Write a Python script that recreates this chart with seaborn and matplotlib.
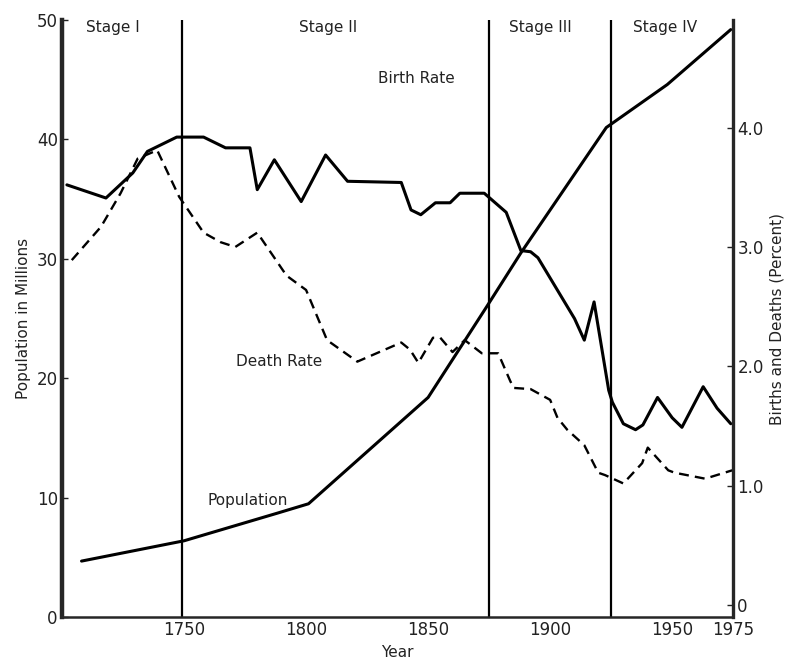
import matplotlib
matplotlib.use('Agg')

import matplotlib.pyplot as plt
import seaborn as sns
import pandas as pd

# population, millions (left axis)
pop_years = [1708, 1750, 1788, 1801, 1850, 1874, 1888, 1923, 1948, 1974]
pop_values = [4.7, 6.4, 8.7, 9.5, 18.4, 26.0, 30.5, 41.0, 44.6, 49.2]

# birth rate, percent (right axis)
birth_years = [1702, 1718, 1729, 1735, 1747, 1758, 1767, 1777, 1780, 1787,
               1798, 1808, 1817, 1839, 1843, 1847, 1853, 1859, 1863, 1873,
               1882, 1888, 1892, 1895, 1910, 1914, 1918, 1924, 1925.5, 1930,
               1935, 1938, 1944, 1950, 1954, 1962.7, 1968.4, 1974]
birth_values = [3.52, 3.41, 3.62, 3.80, 3.92, 3.92, 3.83, 3.83, 3.48, 3.73,
                3.38, 3.77, 3.55, 3.54, 3.31, 3.27, 3.37, 3.37, 3.45, 3.45,
                3.29, 2.97, 2.96, 2.91, 2.40, 2.22, 2.54, 1.80, 1.70, 1.52,
                1.47, 1.51, 1.74, 1.57, 1.49, 1.83, 1.65, 1.52]

# death rate, percent (right axis)
death_years = [1704, 1716, 1724, 1731, 1739, 1748, 1758, 1765, 1771, 1780,
               1792, 1800, 1808.6, 1821, 1839, 1842.6, 1846, 1852, 1855, 1860,
               1865, 1872, 1878.7, 1883.6, 1885, 1892, 1900, 1903, 1907, 1914,
               1919.7, 1922.5, 1930, 1937.7, 1940, 1948.4, 1951, 1963.5, 1974.6]
death_values = [2.89, 3.17, 3.45, 3.74, 3.81, 3.42, 3.12, 3.04, 3.00, 3.12,
                2.76, 2.64, 2.22, 2.04, 2.20, 2.14, 2.03, 2.24, 2.24, 2.12,
                2.22, 2.11, 2.11, 1.88, 1.82, 1.81, 1.72, 1.57, 1.47, 1.34,
                1.11, 1.09, 1.02, 1.19, 1.32, 1.13, 1.11, 1.06, 1.13]

stage_bounds = [1749, 1875, 1925]
stage_names = ["Stage I", "Stage II", "Stage III", "Stage IV"]
stage_label_x = [1721, 1809, 1896, 1947]

year_ticks = [1750, 1800, 1850, 1900, 1950, 1975]
pop_ticks = [0, 10, 20, 30, 40, 50]
rate_ticks = [0, 1, 2, 3, 4]
rate_tick_labels = ["0", "1.0", "2.0", "3.0", "4.0"]

sns.set_style("white")
plt.rcParams['font.family'] = ['DejaVu Sans']

pop_df = pd.DataFrame({"year": pop_years, "value": pop_values})
birth_df = pd.DataFrame({"year": birth_years, "value": birth_values})
death_df = pd.DataFrame({"year": death_years, "value": death_values})

fig = plt.figure(figsize=(7.85, 6.68), dpi=100)
ax = fig.add_axes([0.079, 0.076, 0.855, 0.894])
ax2 = ax.twinx()

sns.lineplot(data=pop_df, x="year", y="value", ax=ax, color="black",
             linewidth=2.2, estimator=None)
sns.lineplot(data=birth_df, x="year", y="value", ax=ax2, color="black",
             linewidth=2.2, estimator=None)
sns.lineplot(data=death_df, x="year", y="value", ax=ax2, color="black",
             linewidth=1.7, linestyle=(0, (4.2, 2.6)), estimator=None)

for b in stage_bounds:
    ax.axvline(b, color="black", linewidth=1.6)

ax.set_xlim(1700, 1975)
ax.set_ylim(0, 50)
ax2.set_ylim(-0.1, 4.9)

ax.set_xticks(year_ticks)
ax.set_yticks(pop_ticks)
ax2.set_yticks(rate_ticks)
ax2.set_yticklabels(rate_tick_labels)

for a in (ax, ax2):
    a.tick_params(direction="in", length=4, width=1, labelsize=12, colors="#222222", pad=3)
    a.spines["top"].set_visible(False)
    a.set_xlabel("")
    a.set_ylabel("")

ax.spines["left"].set_linewidth(3.2)
ax.spines["bottom"].set_linewidth(1.8)
ax2.spines["right"].set_linewidth(2.4)
ax2.spines["left"].set_visible(False)
ax2.spines["bottom"].set_visible(False)

ax.set_xlabel("Year", fontsize=11, color="#222222")
ax.set_ylabel("Population in Millions", fontsize=11, color="#222222", labelpad=4)
ax2.set_ylabel("Births and Deaths (Percent)", fontsize=11, color="#222222", labelpad=4)

for name, x in zip(stage_names, stage_label_x):
    ax.text(x, 49.4, name, ha="center", va="center", fontsize=11, color="#222222")

ax.text(1845, 45.1, "Birth Rate", ha="center", va="center", fontsize=11, color="#222222")
ax.text(1789, 21.4, "Death Rate", ha="center", va="center", fontsize=11, color="#222222")
ax.text(1776, 9.8, "Population", ha="center", va="center", fontsize=11, color="#222222")

fig.savefig("out.png", dpi=100)
